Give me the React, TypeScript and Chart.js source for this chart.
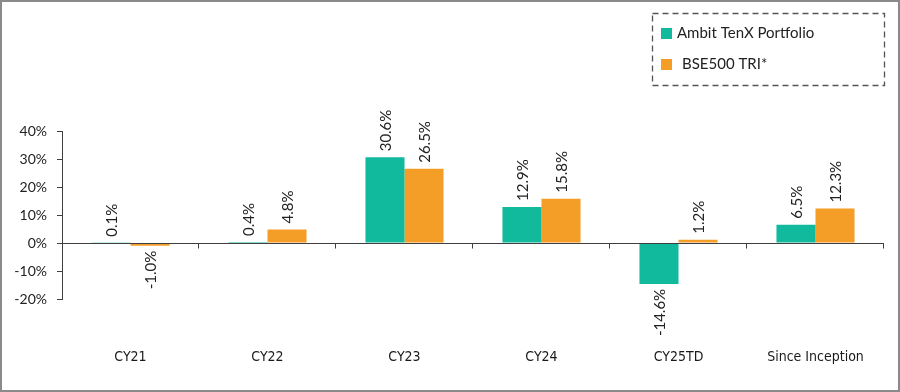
import React, { useEffect, useRef } from "react";
import { Chart, registerables } from "chart.js";

Chart.register(...registerables);

const categories = ["CY21", "CY22", "CY23", "CY24", "CY25TD", "Since Inception"];
const portfolioValues = [0.1, 0.4, 30.6, 12.9, -14.6, 6.5];
const benchmarkValues = [-1.0, 4.8, 26.5, 15.8, 1.2, 12.3];
const seriesNames = ["Ambit TenX Portfolio", "BSE500 TRI*"];
const seriesColors = ["#11B99D", "#F59E27"];
const yMin = -20;
const yMax = 40;
const yStep = 10;

const AXIS = "#3f3f3f";

const overlayPlugin = {
  id: "overlay",
  afterDatasetsDraw(chart: any) {
    const { ctx, chartArea, scales } = chart;
    const y0 = Math.round(scales.y.getPixelForValue(0)) + 0.5;
    ctx.save();
    const n = categories.length;
    const w = (chartArea.right - chartArea.left) / n;
    ctx.strokeStyle = AXIS;
    ctx.lineWidth = 1;
    for (let i = 1; i <= n; i++) {
      const x = Math.round(chartArea.left + i * w) - 0.5;
      ctx.beginPath();
      ctx.moveTo(x, y0);
      ctx.lineTo(x, y0 + 5);
      ctx.stroke();
    }
    ctx.beginPath();
    ctx.moveTo(chartArea.left, y0);
    ctx.lineTo(chartArea.right, y0);
    ctx.stroke();

    // category labels
    ctx.fillStyle = "#1a1a1a";
    ctx.font = "14px 'Liberation Sans Narrow', 'DejaVu Sans Condensed', sans-serif";
    ctx.textAlign = "center";
    ctx.textBaseline = "middle";
    categories.forEach((c, i) => {
      ctx.fillText(c, scales.x.getPixelForValue(i), 357);
    });

    ctx.fillStyle = "#222";
    ctx.font = "15px Lato, 'Noto Sans', sans-serif";
    ctx.textBaseline = "middle";
    chart.data.datasets.forEach((ds: any, di: number) => {
      const meta = chart.getDatasetMeta(di);
      meta.data.forEach((bar: any, i: number) => {
        const v = ds.data[i];
        const txt = v.toFixed(1) + "%";
        ctx.save();
        if (v >= 0) {
          ctx.translate(bar.x, bar.y - 6);
          ctx.rotate(-Math.PI / 2);
          ctx.textAlign = "left";
        } else {
          ctx.translate(bar.x, bar.y + 5);
          ctx.rotate(-Math.PI / 2);
          ctx.textAlign = "right";
        }
        ctx.fillText(txt, 0, 1);
        ctx.restore();
      });
    });

    ctx.setLineDash([6, 4]);
    ctx.strokeStyle = "#555";
    ctx.lineWidth = 1.3;
    ctx.strokeRect(652.5, 13.5, 232, 72);
    ctx.setLineDash([]);
    ctx.font = "15px Lato, 'Noto Sans', sans-serif";
    ctx.textAlign = "left";
    ctx.textBaseline = "middle";
    const items = [
      { y: 28, tx: 677 },
      { y: 59, tx: 682 },
    ];
    items.forEach((it, k) => {
      ctx.fillStyle = seriesColors[k];
      ctx.fillRect(661, it.y, 11, 11);
      ctx.fillStyle = "#222";
      ctx.fillText(seriesNames[k], it.tx, it.y + 5.5);
    });
    ctx.restore();
  },
};

export default function App() {
  const ref = useRef<HTMLCanvasElement | null>(null);
  useEffect(() => {
    if (!ref.current) return;
    const chart = new Chart(ref.current, {
      type: "bar",
      data: {
        labels: categories,
        datasets: [
          { label: seriesNames[0], data: portfolioValues, backgroundColor: seriesColors[0] },
          { label: seriesNames[1], data: benchmarkValues, backgroundColor: seriesColors[1] },
        ],
      },
      options: {
        animation: false,
        responsive: false,
        maintainAspectRatio: false,
        layout: { padding: { top: 131, right: 16, bottom: 0, left: 0 } },
        datasets: { bar: { categoryPercentage: 0.57, barPercentage: 1 } },
        plugins: { legend: { display: false }, tooltip: { enabled: false } },
        scales: {
          x: {
            grid: { display: false },
            border: { display: false },
            ticks: { display: false },
            afterFit: (s: any) => {
              s.height = 93;
            },
          },
          y: {
            min: yMin,
            max: yMax,
            ticks: {
              stepSize: yStep,
              padding: 10,
              color: "#222",
              font: { family: "Lato, 'Noto Sans', sans-serif", size: 14 },
              callback: (v: any) => v + "%",
            },
            grid: {
              drawOnChartArea: false,
              tickLength: 5,
              tickColor: AXIS,
            },
            border: { display: true, color: AXIS },
            afterFit: (s: any) => {
              s.width = 62;
            },
          },
        },
      },
      plugins: [overlayPlugin],
    });
    return () => chart.destroy();
  }, []);
  return (
    <div
      style={{
        position: "fixed",
        left: 0,
        top: 0,
        width: 900,
        height: 392,
        boxSizing: "border-box",
        border: "2px solid #8a8a8a",
        background: "#fff",
        overflow: "hidden",
      }}
    >
      <canvas ref={ref} width={900} height={392} style={{ position: "absolute", left: -2, top: -2 }} />
    </div>
  );
}
